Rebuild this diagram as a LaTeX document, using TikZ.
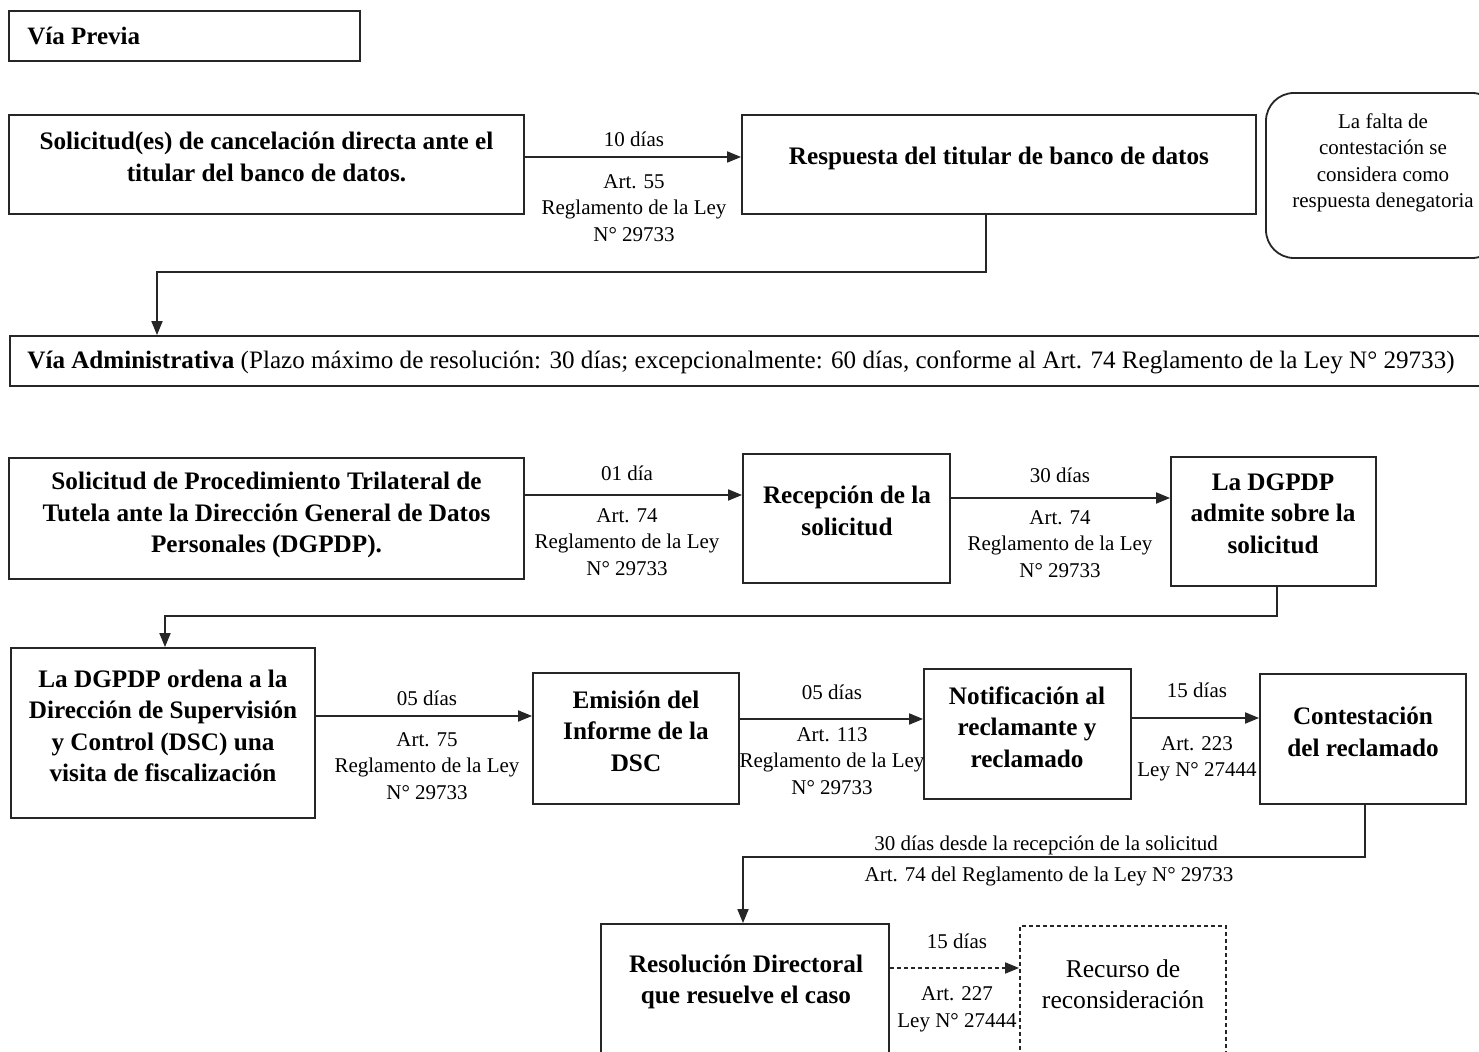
\documentclass[tikz,border=0pt]{standalone}
\usepackage{fontspec}
\setmainfont{Liberation Serif}
\usetikzlibrary{arrows.meta}
\begin{document}
\begin{tikzpicture}[x=0.5pt,y=-0.5pt,
  box/.style={draw=black!85, line width=0.9pt, inner sep=0pt, rectangle},
  bt/.style={align=center, inner sep=0pt, font=\bfseries\fontsize{12.6}{15.75}\selectfont},
  lab/.style={align=center, inner sep=0pt, font=\fontsize{10.5}{13.25}\selectfont},
  arr/.style={line width=0.9pt, draw=black!85, -{Triangle[length=7pt,width=5.5pt]}},
  dsh/.style={dash pattern=on 2pt off 1.5pt}]
\clip (0,0) rectangle (1479,1052);
% Via previa
\node[box, minimum width=175.5pt, minimum height=25pt] (vp) at (184.5,36) {};
\node[anchor=west, inner sep=0pt, font=\bfseries\fontsize{12.5}{15}\selectfont] (vpT) at (27,36) {Vía Previa};
% row 1
\node[box, minimum width=257.5pt, minimum height=49.5pt] (s1) at (266.5,164.5) {};
\node[bt] (s1T) at (266.5,157) {Solicitud(es) de cancelación directa ante el\\titular del banco de datos.};
\node[box, minimum width=257pt, minimum height=49.5pt] (rp) at (999,164.5) {};
\node[bt] (rpT) at (999,158.5) {Respuesta del titular de banco de datos};
\coordinate (y157) at (0,157);
\draw[arr] (s1.east |- y157) -- (rp.west |- y157);
\node[lab] (l1a) at (634,139) {10 días};
\node[lab] (l1b) at (634,208) {Art. 55\\Reglamento de la Ley\\N° 29733};
\node[box, rounded corners=14pt, minimum width=117pt, minimum height=82.5pt] (nt) at (1383,175.5) {};
\node[lab] (ntT) at (1383,163) {La falta de\\contestación se\\considera como\\respuesta denegatoria};
% via administrativa
\node[box, minimum width=742.5pt, minimum height=25pt] (ad) at (752.5,361) {};
\node[anchor=west, inner sep=0pt, font=\fontsize{12.55}{14}\selectfont] (adT) at (27,362.5) {\textbf{Vía Administrativa} (Plazo máximo de resolución: 30 días; excepcionalmente: 60 días, conforme al Art. 74 Reglamento de la Ley N° 29733)};
\coordinate (k1) at (157,272);
\draw[arr] ([xshift=-6.5pt]rp.south) |- (k1) -- (k1 |- ad.north);
% row 2
\node[box, minimum width=257.5pt, minimum height=60.5pt] (s2) at (266.5,518.5) {};
\node[bt] (s2T) at (266.5,515) {Solicitud de Procedimiento Trilateral de\\Tutela ante la Dirección General de Datos\\Personales (DGPDP).};
\node[box, minimum width=103.5pt, minimum height=64.5pt] (rc) at (846.5,518.5) {};
\node[bt] (rcT) at (847,511) {Recepción de la\\solicitud};
\node[box, minimum width=102.5pt, minimum height=64.5pt] (am) at (1273.5,521.5) {};
\node[bt] (amT) at (1273,513.5) {La DGPDP\\admite sobre la\\solicitud};
\coordinate (y495) at (0,495);
\draw[arr] (s2.east |- y495) -- (rc.west |- y495);
\node[lab] (l2a) at (627,473) {01 día};
\node[lab] (l2b) at (627,542) {Art. 74\\Reglamento de la Ley\\N° 29733};
\coordinate (y498) at (0,498);
\draw[arr] (rc.east |- y498) -- (am.west |- y498);
\node[lab] (l3a) at (1060,475) {30 días};
\node[lab] (l3b) at (1060,544) {Art. 74\\Reglamento de la Ley\\N° 29733};
% row 3
\node[box, minimum width=152pt, minimum height=85pt] (od) at (163,733) {};
\node[bt] (odT) at (163,726) {La DGPDP ordena a la\\Dirección de Supervisión\\y Control (DSC) una\\visita de fiscalización};
\node[box, minimum width=103pt, minimum height=65.5pt] (em) at (636,738.5) {};
\node[bt] (emT) at (636,731) {Emisión del\\Informe de la\\DSC};
\node[box, minimum width=103.5pt, minimum height=65pt] (nf) at (1027.5,734) {};
\node[bt] (nfT) at (1027,727) {Notificación al\\reclamante y\\reclamado};
\node[box, minimum width=103pt, minimum height=65pt] (ct) at (1363,739) {};
\node[bt] (ctT) at (1363,732) {Contestación\\del reclamado};
\coordinate (k2) at (165,616);
\draw[arr] ([xshift=1.75pt]am.south) |- (k2) -- (k2 |- od.north);
\coordinate (y716) at (0,716);
\draw[arr] (od.east |- y716) -- (em.west |- y716);
\node[lab] (l4a) at (427,698) {05 días};
\node[lab] (l4b) at (427,766) {Art. 75\\Reglamento de la Ley\\N° 29733};
\coordinate (y719) at (0,719);
\draw[arr] (em.east |- y719) -- (nf.west |- y719);
\node[lab] (l5a) at (832,692) {05 días};
\node[lab] (l5b) at (832,761) {Art. 113\\Reglamento de la Ley\\N° 29733};
\coordinate (y718) at (0,718);
\draw[arr] (nf.east |- y718) -- (ct.west |- y718);
\node[lab] (l6a) at (1197,690) {15 días};
\node[lab] (l6b) at (1197,759) {Art. 223\\Ley N° 27444};
% row 4
\node[box, minimum width=144pt, minimum height=78pt] (rs) at (745,1002) {};
\node[bt] (rsT) at (746,982) {Resolución Directoral\\que resuelve el caso};
\node[box, dsh, minimum width=103pt, minimum height=77pt] (rr) at (1123,1003) {};
\node[align=center, inner sep=0pt, font=\fontsize{12.8}{15.5}\selectfont] (rrT) at (1123,984) {Recurso de\\reconsideración};
\coordinate (k3) at (743,857);
\draw[arr] ([xshift=1pt]ct.south) |- (k3) -- (k3 |- rs.north);
\node[lab] (l7a) at (1046,845) {30 días desde la recepción de la solicitud};
\node[lab] (l7b) at (1049,876) {Art. 74 del Reglamento de la Ley N° 29733};
\coordinate (y968) at (0,968);
\draw[arr, dsh] (rs.east |- y968) -- (rr.west |- y968);
\node[lab] (l8a) at (957,941) {15 días};
\node[lab] (l8b) at (957,1009.5) {Art. 227\\Ley N° 27444};
\end{tikzpicture}
\end{document}
